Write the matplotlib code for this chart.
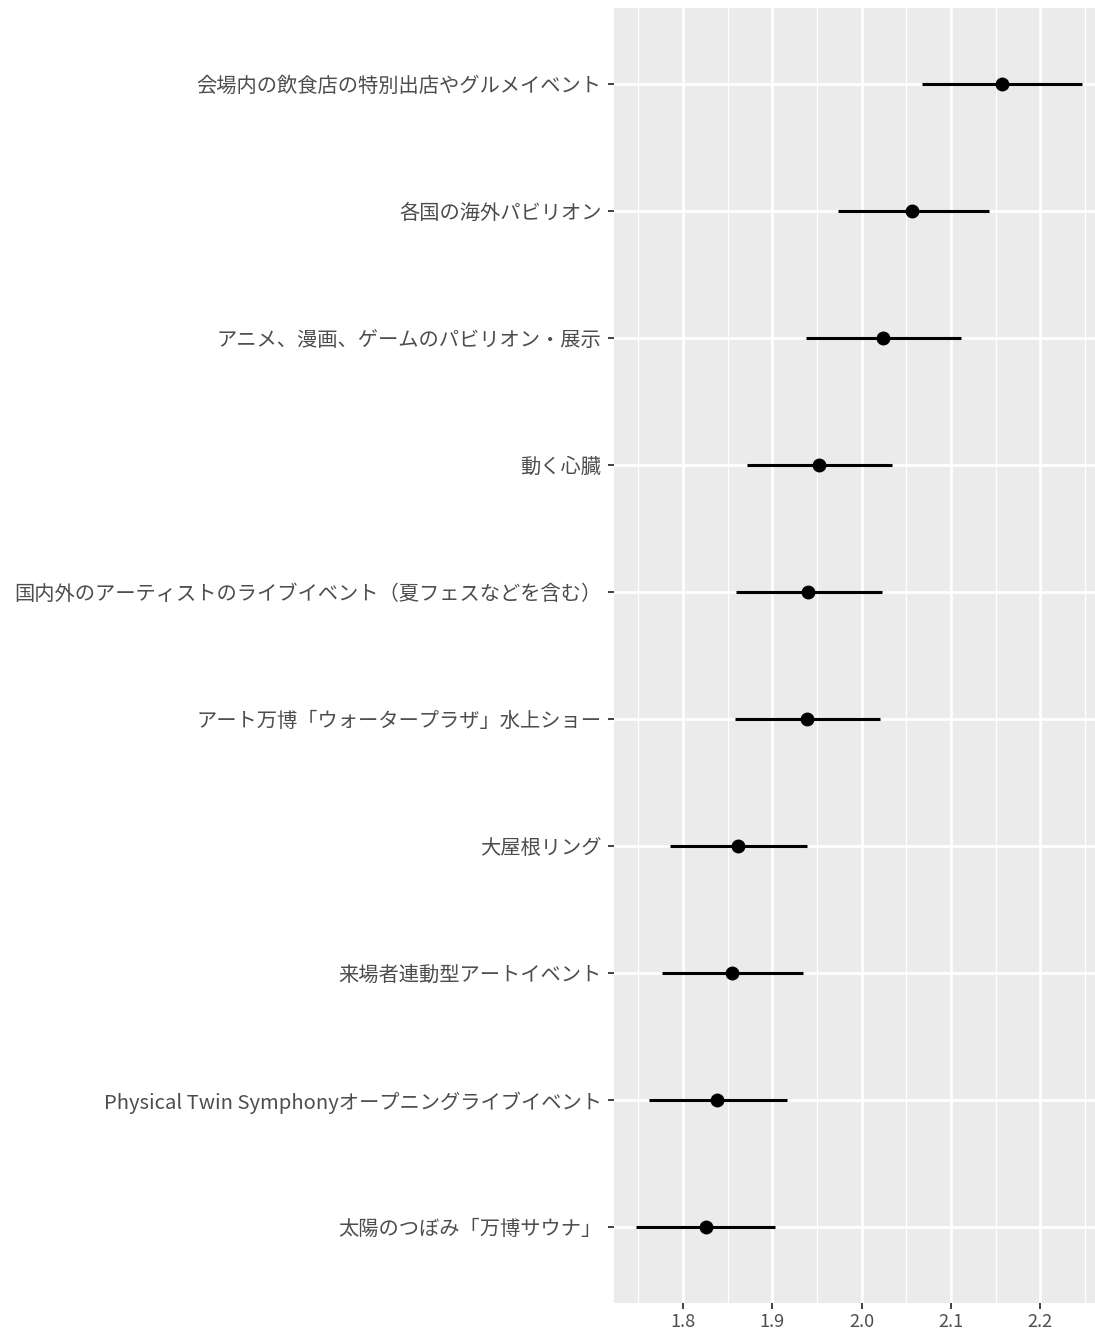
import matplotlib.pyplot as plt
import numpy as np

plt.rcParams['font.family'] = ['Noto Sans CJK JP', 'DejaVu Sans']

labels = [
    "会場内の飲食店の特別出店やグルメイベント",
    "各国の海外パビリオン",
    "アニメ、漫画、ゲームのパビリオン・展示",
    "動く心臓",
    "国内外のアーティストのライブイベント（夏フェスなどを含む）",
    "アート万博「ウォータープラザ」水上ショー",
    "大屋根リング",
    "来場者連動型アートイベント",
    "Physical Twin Symphonyオープニングライブイベント",
    "太陽のつぼみ「万博サウナ」",
]
est = [2.157, 2.056, 2.024, 1.952, 1.940, 1.939, 1.862, 1.855, 1.838, 1.826]
lo = [2.068, 1.974, 1.938, 1.872, 1.859, 1.858, 1.785, 1.776, 1.762, 1.747]
hi = [2.247, 2.143, 2.111, 2.034, 2.023, 2.021, 1.939, 1.934, 1.916, 1.903]

fig = plt.figure(figsize=(10.95, 13.36), dpi=100)
ax = fig.add_axes([614 / 1095, 1 - 1303 / 1336, 1 - 614 / 1095, (1303 - 8) / 1336])
ax.set_facecolor('#EBEBEB')

n = len(labels)
y = np.arange(n)[::-1]

# interval bars with the point estimate on top
ax.hlines(y, lo, hi, color='black', lw=2.2, zorder=3)
ax.plot(est, y, 'o', color='black', ms=9, zorder=4)

ax.set_xlim(1.7227, 2.2614)
ax.set_ylim(-0.6, n - 1 + 0.6)
ax.set_yticks(y)
ax.set_yticklabels(labels)
ax.set_xticks([1.8, 1.9, 2.0, 2.1, 2.2])
ax.set_xticklabels(['1.8', '1.9', '2.0', '2.1', '2.2'])
ax.set_xticks([1.75, 1.85, 1.95, 2.05, 2.15, 2.25], minor=True)

ax.grid(True, which='major', color='white', lw=1.9)
ax.grid(True, which='minor', axis='x', color='white', lw=0.9)
ax.set_axisbelow(True)
for s in ax.spines.values():
    s.set_visible(False)

ax.tick_params(axis='both', which='major', color='#333333', length=4, width=1.3,
               labelcolor='#4D4D4D')
ax.tick_params(axis='x', which='minor', length=0)
ax.tick_params(axis='y', labelsize=14.6, pad=5)
ax.tick_params(axis='x', labelsize=13, pad=3)

fig.savefig('out.png', dpi=100)
